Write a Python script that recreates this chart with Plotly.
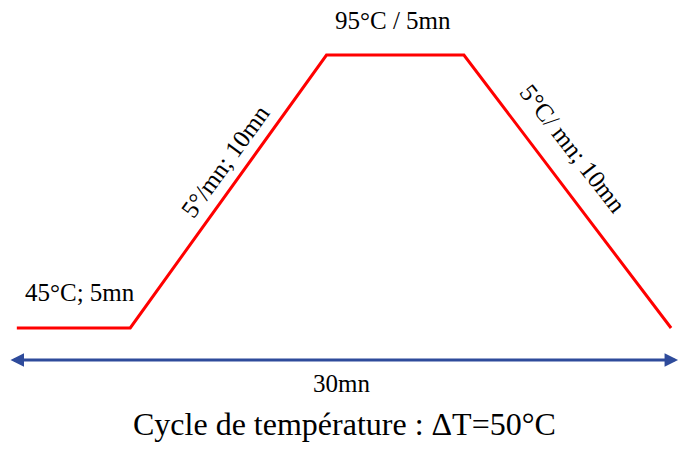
import plotly.graph_objects as go

# temperature cycle (time in mn as drawn, temperature in °C)
time_mn = [0, 5.2, 14.2, 20.5, 30]
temp_c = [45, 45, 95, 95, 45]

step_labels = ["45°C; 5mn", "5°/mn; 10mn", "95°C / 5mn", "5°C/ mn; 10mn"]
span_label = "30mn"
title = "Cycle de température : ΔT=50°C"

FONT = "Liberation Serif, Times New Roman, serif"

fig = go.Figure()
fig.add_trace(go.Scatter(x=time_mn, y=temp_c, mode="lines",
                         line=dict(color="#FF0000", width=3),
                         hoverinfo="skip"))

# reference px -> data helpers
X0, XS = 16, 22.23   # pixel of t=0, px per mn
Y0, YS = 328, 5.46   # pixel of 45°C, px per °C


def px_x(p):
    return (p - X0) / XS


def px_y(p):
    return 45 + (Y0 - p) / YS


# double arrow for the whole cycle
fig.add_annotation(x=px_x(690), y=px_y(360), ax=px_x(8), ay=px_y(360),
                   xref="x", yref="y", axref="x", ayref="y", text="",
                   showarrow=True, arrowside="end+start", arrowhead=2,
                   arrowsize=0.9, arrowwidth=3, arrowcolor="#2E4B9B",
                   standoff=0, startstandoff=0)


def label(txt, px, py, size=25, angle=0):
    fig.add_annotation(x=px_x(px), y=px_y(py), xref="x", yref="y",
                       text=txt, showarrow=False, textangle=angle,
                       font=dict(family=FONT, size=size, color="black"),
                       xanchor="center", yanchor="middle")


label(step_labels[0], 80, 292)
label(step_labels[1], 228, 161, angle=-54)
label(step_labels[2], 399, 20)
label(step_labels[3], 583, 148, angle=52)
label(span_label, 347, 383)
label(title, 350, 424, size=32)

# page shows the graph at (8, 8), 672 x 434
fig.update_xaxes(range=[px_x(7), px_x(692)], visible=False, fixedrange=True)
fig.update_yaxes(range=[px_y(442), px_y(8)], visible=False, fixedrange=True)
fig.update_layout(margin=dict(l=0, r=0, t=0, b=0),
                  showlegend=False, paper_bgcolor="white",
                  plot_bgcolor="white")

fig.write_html("out.html")
